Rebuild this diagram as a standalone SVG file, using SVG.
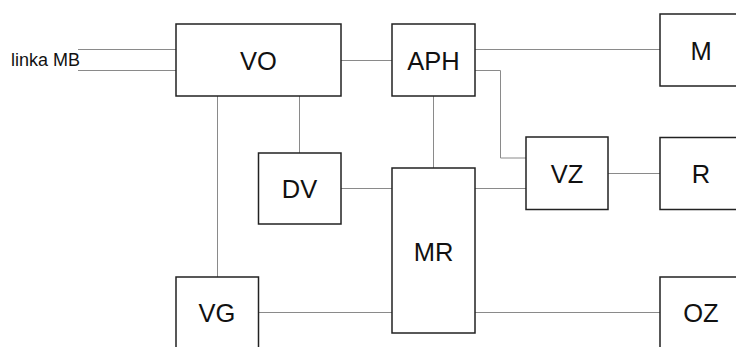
<svg xmlns="http://www.w3.org/2000/svg" width="736" height="347" viewBox="0 0 736 347">
<style>
.box{fill:#fff;stroke:#222;stroke-width:1.5}
.lbl{font-family:"Liberation Sans",Arial,sans-serif;font-size:25.5px;fill:#111;text-anchor:middle}
.small{font-family:"Liberation Sans",Arial,sans-serif;font-size:17.5px;fill:#111}
.conn{fill:none;stroke:#8a8a8a;stroke-width:1}
</style>
<rect width="736" height="347" fill="#fff"/>
<g id="connectors">
<line class="conn" x1="78" y1="49.5" x2="176" y2="49.5"/>
<line class="conn" x1="78" y1="70.5" x2="176" y2="70.5"/>
<line class="conn" x1="341" y1="60.5" x2="392" y2="60.5"/>
<line class="conn" x1="475" y1="49.5" x2="660" y2="49.5"/>
<polyline class="conn" points="475,70.5 500.5,70.5 500.5,158 526,158"/>
<line class="conn" x1="608" y1="173.5" x2="660" y2="173.5"/>
<line class="conn" x1="433.5" y1="96" x2="433.5" y2="168"/>
<line class="conn" x1="475" y1="188.5" x2="526" y2="188.5"/>
<line class="conn" x1="341" y1="188.5" x2="392" y2="188.5"/>
<line class="conn" x1="299.5" y1="96" x2="299.5" y2="153"/>
<line class="conn" x1="217.5" y1="96" x2="217.5" y2="277"/>
<line class="conn" x1="258.5" y1="312.5" x2="392" y2="312.5"/>
<line class="conn" x1="475" y1="312.5" x2="660" y2="312.5"/>
</g>
<text class="small" x="11" y="66" textLength="69" lengthAdjust="spacingAndGlyphs">linka MB</text>
<g id="VO"><rect class="box" x="176" y="24" width="165" height="72"/><text class="lbl" x="258.5" y="69.5">VO</text></g>
<g id="APH"><rect class="box" x="392" y="24" width="83" height="72"/><text class="lbl" x="433.5" y="69.5">APH</text></g>
<g id="M"><rect class="box" x="660" y="14" width="83" height="72"/><text class="lbl" x="701" y="59.5">M</text></g>
<g id="DV"><rect class="box" x="258.5" y="153" width="82.5" height="71"/><text class="lbl" x="299.5" y="198">DV</text></g>
<g id="MR"><rect class="box" x="392" y="168" width="83" height="165"/><text class="lbl" x="433.5" y="260.5">MR</text></g>
<g id="VZ"><rect class="box" x="526" y="137" width="82" height="72.5"/><text class="lbl" x="567" y="183">VZ</text></g>
<g id="R"><rect class="box" x="660" y="137.5" width="83" height="72"/><text class="lbl" x="701" y="183">R</text></g>
<g id="VG"><rect class="box" x="176" y="277" width="82.5" height="75"/><text class="lbl" x="217" y="321.5">VG</text></g>
<g id="OZ"><rect class="box" x="660" y="277" width="83" height="75"/><text class="lbl" x="701" y="321.5">OZ</text></g>
</svg>
